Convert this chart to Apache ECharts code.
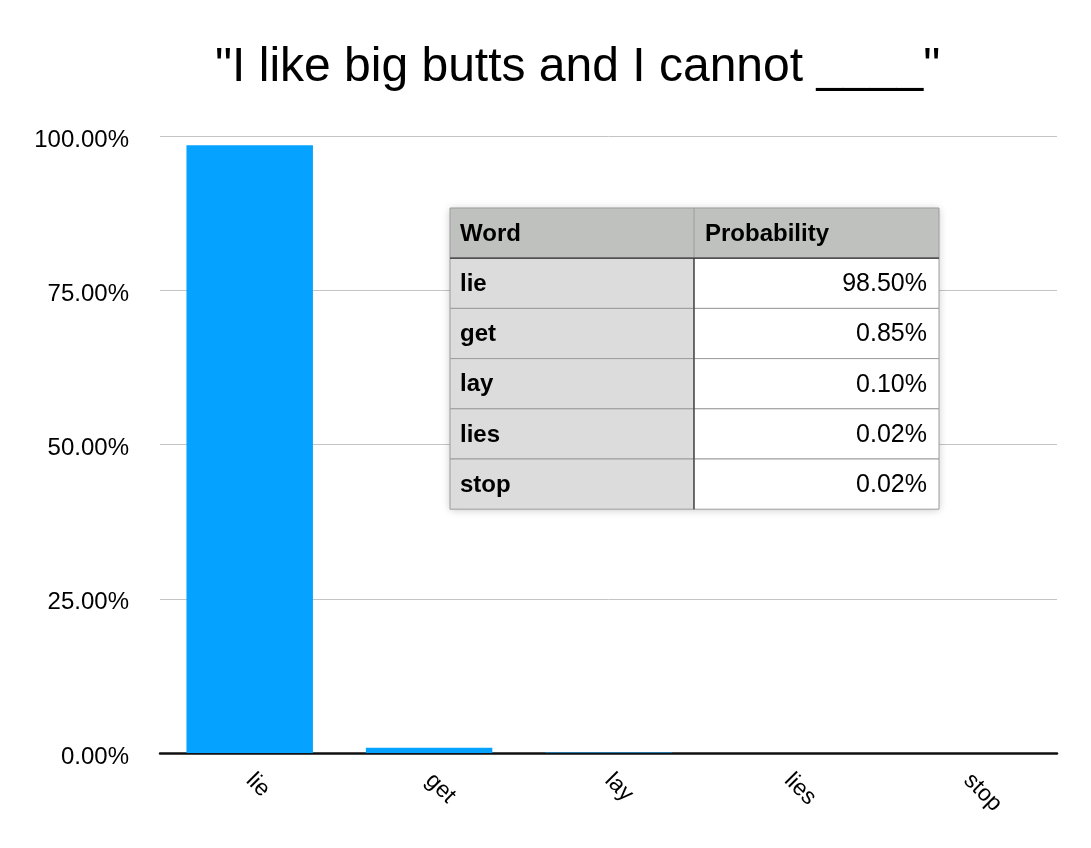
<!DOCTYPE html>
<html><head><meta charset="utf-8">
<script src="https://cdn.jsdelivr.net/npm/echarts@6/dist/echarts.min.js"></script>
<style>html,body{margin:0;padding:0;background:#fff}#c{width:1091px;height:848px}</style>
</head><body><div id="c"></div>
<script>
const categories = ['lie', 'get', 'lay', 'lies', 'stop'];
const probabilities = [98.5, 0.85, 0.10, 0.02, 0.02];
const tableHeader = ['Word', 'Probability'];
const yTicks = [0, 25, 50, 75, 100];

const FONT = '"Liberation Sans", Arial, Helvetica, sans-serif';
const chart = echarts.init(document.getElementById('c'));

// Table overlay built from the data arrays
const tx = 450, ty = 208, c1 = 244, c2 = 245, rh = 50.2;
const Z = 100;
const tableChildren = [];
tableChildren.push({type:'rect', z:Z, shape:{x:0,y:0,width:c1+c2,height:rh*(categories.length+1)},
  style:{fill:'#fff', shadowBlur:8, shadowColor:'rgba(0,0,0,0.22)', shadowOffsetY:1}});
tableChildren.push({type:'rect', z:Z, shape:{x:0,y:0,width:c1+c2,height:rh}, style:{fill:'#bfc1bf', stroke:'#9c9c9c', lineWidth:1}});
tableChildren.push({type:'text', z:Z+1, style:{x:10, y:rh/2+1, text:tableHeader[0], font:'bold 24px '+FONT, fill:'#000', verticalAlign:'middle'}});
tableChildren.push({type:'text', z:Z+1, style:{x:c1+11, y:rh/2+1, text:tableHeader[1], font:'bold 24px '+FONT, fill:'#000', verticalAlign:'middle'}});
tableChildren.push({type:'line', z:Z+1, shape:{x1:c1,y1:0,x2:c1,y2:rh}, style:{stroke:'#9c9c9c', lineWidth:1}});
categories.forEach((w, i) => {
  const y = rh*(i+1);
  tableChildren.push({type:'rect', z:Z, shape:{x:0,y:y,width:c1,height:rh}, style:{fill:'#dcdcdc', stroke:'#9c9c9c', lineWidth:1}});
  tableChildren.push({type:'rect', z:Z, shape:{x:c1,y:y,width:c2,height:rh}, style:{fill:'#fff', stroke:'#9c9c9c', lineWidth:1}});
  tableChildren.push({type:'text', z:Z+1, style:{x:10, y:y+rh/2+1, text:w, font:'bold 24px '+FONT, fill:'#000', verticalAlign:'middle'}});
  tableChildren.push({type:'text', z:Z+1, style:{x:c1+c2-12, y:y+rh/2+1, text:probabilities[i].toFixed(2)+'%', font:'25px '+FONT, fill:'#000', align:'right', verticalAlign:'middle'}});
});
tableChildren.push({type:'line', z:Z+2, shape:{x1:0,y1:rh,x2:c1+c2,y2:rh}, style:{stroke:'#333', lineWidth:1.2}});
tableChildren.push({type:'line', z:Z+2, shape:{x1:c1,y1:rh,x2:c1,y2:rh*(categories.length+1)}, style:{stroke:'#333', lineWidth:1.2}});

chart.setOption({
  animation: false,
  backgroundColor: '#fff',
  title: {
    text: '"I like big butts and I cannot ____"',
    left: 210, top: 39,
    textStyle: {fontFamily: FONT, fontSize: 48, fontWeight: 'normal', color: '#000'}
  },
  grid: {left: 160, right: 34, top: 136, bottom: 95, containLabel: false},
  xAxis: {
    type: 'category', data: categories,
    axisLine: {lineStyle: {color: '#111', width: 2.5}},
    axisTick: {show: false},
    axisLabel: {rotate: -45, margin: 24, fontFamily: FONT, fontSize: 23, color: '#000'}
  },
  yAxis: {
    type: 'value', min: 0, max: 100, interval: 25,
    axisLine: {show: false}, axisTick: {show: false},
    splitLine: {lineStyle: {color: '#c4c4c4', width: 1}},
    axisLabel: {margin: 31, fontFamily: FONT, fontSize: 24, color: '#000',
      formatter: v => yTicks.includes(v) ? '{a|' + v.toFixed(2) + '%}' : '',
      rich: {a: {fontFamily: FONT, fontSize: 24, color: '#000', padding: [8, 0, 0, 0]}}}
  },
  series: [{
    type: 'bar', data: probabilities, barWidth: '70.5%',
    itemStyle: {color: '#05a3ff'}
  }],
  graphic: [{type: 'group', x: tx, y: ty, z: Z, children: tableChildren}]
});
</script></body></html>
